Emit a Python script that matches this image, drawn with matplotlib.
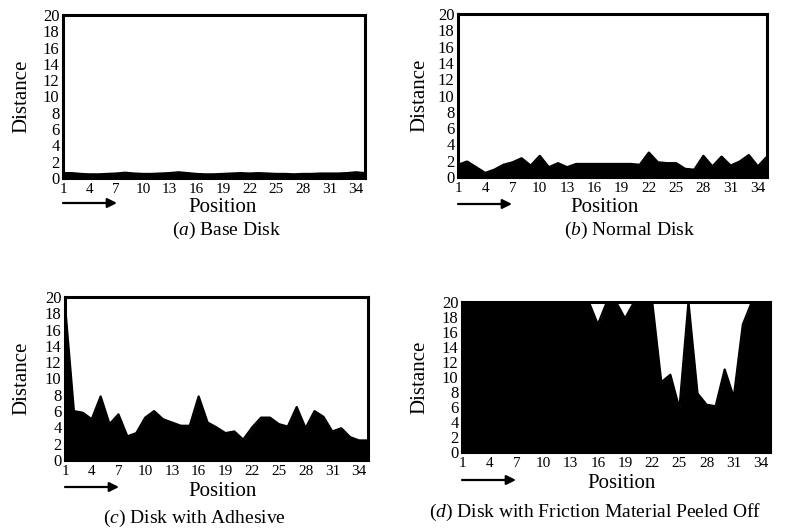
import numpy as np
import matplotlib
matplotlib.use('Agg')
import matplotlib.pyplot as plt

plt.rcParams['font.family'] = ['Liberation Serif', 'DejaVu Serif']
plt.rcParams['mathtext.fontset'] = 'custom'
plt.rcParams['mathtext.rm'] = 'Liberation Serif'
plt.rcParams['mathtext.it'] = 'Liberation Serif:italic'

W, H = 794, 528

positions = np.arange(1, 36)
x_ticks = np.arange(1, 35, 3)
y_ticks = np.arange(0, 21, 2)

# upper envelope of the distance curves
base_disk = [0.6, 0.6, 0.5, 0.45, 0.45, 0.5, 0.55, 0.65, 0.55, 0.5,
             0.5, 0.55, 0.6, 0.7, 0.6, 0.5, 0.45, 0.45, 0.5, 0.55,
             0.6, 0.55, 0.6, 0.55, 0.5, 0.5, 0.45, 0.5, 0.5, 0.55,
             0.55, 0.55, 0.6, 0.7, 0.6]
normal_disk = [1.5, 1.9, 1.2, 0.5, 0.9, 1.5, 1.8, 2.3, 1.4, 2.6,
               1.2, 1.7, 1.2, 1.6, 1.6, 1.6, 1.6, 1.6, 1.6, 1.6,
               1.5, 3.0, 1.8, 1.7, 1.7, 1.0, 0.9, 2.6, 1.3, 2.5,
               1.4, 1.9, 2.7, 1.3, 2.5]
adhesive_disk = [19.0, 6.0, 5.8, 5.0, 7.8, 4.4, 5.6, 2.9, 3.3, 5.2,
                 6.0, 5.0, 4.6, 4.2, 4.2, 7.8, 4.6, 4.0, 3.3, 3.5,
                 2.5, 4.0, 5.2, 5.2, 4.4, 4.1, 6.5, 3.9, 6.0, 5.3,
                 3.5, 3.9, 2.8, 2.4, 2.4]
peeled_disk = [20, 20, 20, 20, 20, 20, 20, 20, 20, 20,
               20, 20, 20, 20, 20, 17.0, 20, 20, 17.8, 20,
               20, 20, 9.3, 10.3, 5.8, 20, 7.8, 6.3, 6.1, 11.0,
               7.3, 17.0, 20, 20, 20]

panels = [
    # data, caption, letter, box (left, top, right, bottom) px, arrow y, label (x, y), caption (x, y), ylabel x
    (base_disk, 'Base Disk', 'a', (63, 15, 365, 178), 203, (223, 208), (227, 230), 22),
    (normal_disk, 'Normal Disk', 'b', (458, 14, 767, 177), 204, (605, 208), (629, 230), 420),
    (adhesive_disk, 'Disk with Adhesive', 'c', (65, 297, 368, 460), 487, (223, 491), (194, 518), 22),
    (peeled_disk, 'Disk with Friction Material Peeled Off', 'd', (462, 302, 770, 452), 480, (622, 484), (595, 512), 420),
]

fig = plt.figure(figsize=(W / 100, H / 100), dpi=100)

for data, caption, letter, box, arrow_y, lab_xy, cap_xy, ylab_x in panels:
    l, t, r, b = box
    ax = fig.add_axes([l / W, 1 - b / H, (r - l) / W, (b - t) / H])
    ax.fill_between(positions, 0, data, color='black', lw=0)
    ax.plot(positions, data, color='black', lw=1.6)
    ax.set_xlim(1, 35)
    ax.set_ylim(0, 20)
    ax.set_xticks(x_ticks)
    ax.set_yticks(y_ticks)
    ax.tick_params(length=0)
    ax.tick_params(axis='x', pad=3.5, labelsize=11)
    ax.tick_params(axis='y', pad=2.5, labelsize=12)
    for s in ax.spines.values():
        s.set_linewidth(2.2)

    # axis titles and caption in figure pixels
    fig.text(lab_xy[0] / W, 1 - lab_xy[1] / H, 'Position', fontsize=15,
             ha='center', va='center')
    fig.text(ylab_x / W, 1 - (t + b) / 2 / H, 'Distance', fontsize=15,
             rotation=90, ha='center', va='center')
    fig.text(cap_xy[0] / W, 1 - cap_xy[1] / H, '(' + r'$\it{' + letter + '}$' + ') ' + caption,
             fontsize=14, ha='center', va='center')

    # direction arrow under the ticks
    ax.annotate('', xy=(l + 54, H - arrow_y), xytext=(l, H - arrow_y),
                xycoords='figure pixels', textcoords='figure pixels',
                arrowprops=dict(arrowstyle='-|>', color='black', lw=1.6,
                                mutation_scale=14, shrinkA=0, shrinkB=0))

fig.savefig('out.png', dpi=100)
